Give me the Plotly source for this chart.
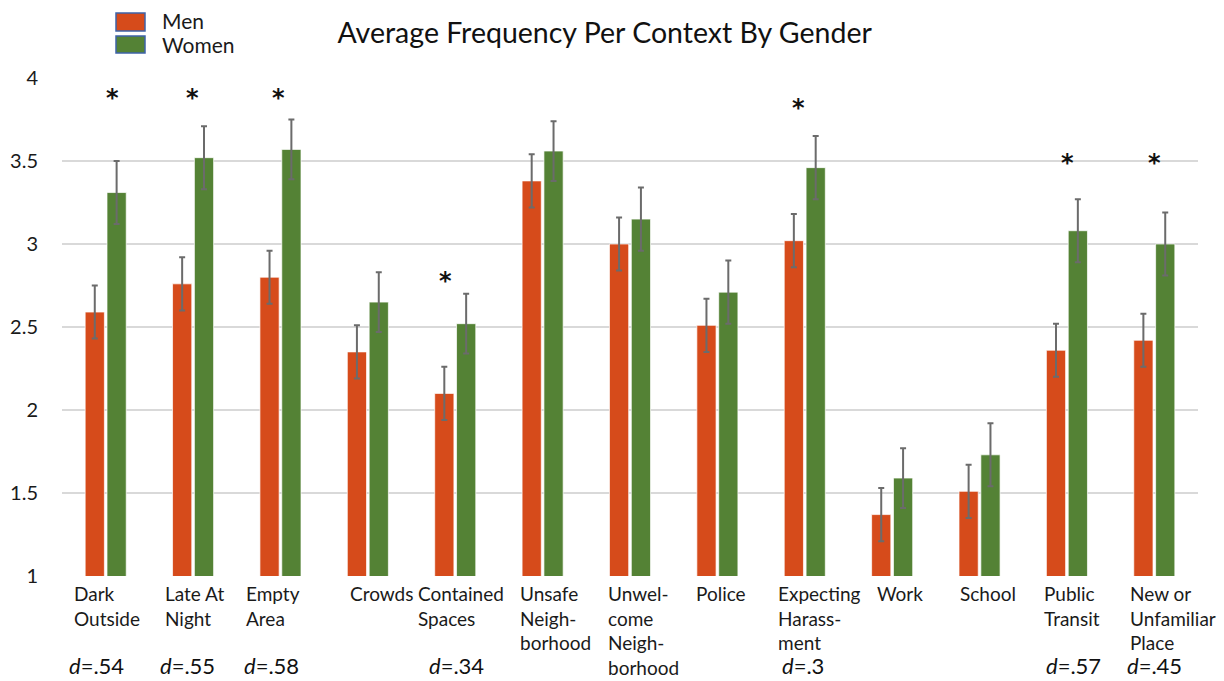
import plotly.graph_objects as go

# Contexts and per-gender mean frequency ratings
contexts = [
    "Dark Outside", "Late At Night", "Empty Area", "Crowds", "Contained Spaces",
    "Unsafe Neighborhood", "Unwelcome Neighborhood", "Police",
    "Expecting Harassment", "Work", "School", "Public Transit",
    "New or Unfamiliar Place",
]
context_labels = [
    "Dark<br>Outside", "Late At<br>Night", "Empty<br>Area", "Crowds",
    "Contained<br>Spaces", "Unsafe<br>Neigh-<br>borhood",
    "Unwel-<br>come<br>Neigh-<br>borhood", "Police",
    "Expecting<br>Harass-<br>ment", "Work", "School", "Public<br>Transit",
    "New or<br>Unfamiliar<br>Place",
]
men_mean = [2.59, 2.76, 2.80, 2.35, 2.10, 3.38, 3.00, 2.51, 3.02, 1.37, 1.51, 2.36, 2.42]
men_err = [0.16, 0.16, 0.16, 0.16, 0.16, 0.16, 0.16, 0.16, 0.16, 0.16, 0.16, 0.16, 0.16]
women_mean = [3.31, 3.52, 3.57, 2.65, 2.52, 3.56, 3.15, 2.71, 3.46, 1.59, 1.73, 3.08, 3.00]
women_err = [0.19, 0.19, 0.18, 0.18, 0.18, 0.18, 0.19, 0.19, 0.19, 0.18, 0.19, 0.19, 0.19]

# Significant differences: asterisk height and effect size label
sig_contexts = ["Dark Outside", "Late At Night", "Empty Area", "Contained Spaces",
                "Expecting Harassment", "Public Transit", "New or Unfamiliar Place"]
sig_star_y = [3.91, 3.91, 3.91, 2.81, 3.85, 3.52, 3.52]
effect_sizes = [".54", ".55", ".58", ".34", ".3", ".57", ".45"]

# Text placement tweaks (pixels, relative to each group's center)
label_left_shift = [-34, -30, -36, -20, -39, -25, -24, -23, -29, -17, -22, -25, -26]
star_shift = [7, -1, -2, -10, -6, 1, 0]
d_shift = [-9, -6, -9, 1, -2, 7, 0]

MEN_COLOR = "#D64B1B"
WOMEN_COLOR = "#548235"
FONT = "Lato"

W, H = 1224, 681
ML, MR, MT, MB = 62, 26, 78, 105
PW, PH = W - ML - MR, H - MT - MB


def px_x(px):
    return (px - ML) / PW


def px_y(py):
    return (H - MB - py) / PH


fig = go.Figure()
fig.add_trace(go.Bar(
    name="Men", x=contexts, y=men_mean, base=0,
    marker=dict(color=MEN_COLOR, line=dict(color="rgba(255,255,255,0.7)", width=1)),
    error_y=dict(type="data", array=men_err, color="#6b6b6b", thickness=2, width=3),
    showlegend=False,
))
fig.add_trace(go.Bar(
    name="Women", x=contexts, y=women_mean, base=0,
    marker=dict(color=WOMEN_COLOR, line=dict(color="rgba(255,255,255,0.7)", width=1)),
    error_y=dict(type="data", array=women_err, color="#6b6b6b", thickness=2, width=3),
    showlegend=False,
))

annotations = []
# Category labels beneath the axis, left-aligned text blocks
for c, lab, sh in zip(contexts, context_labels, label_left_shift):
    annotations.append(dict(
        x=c, xref="x", y=px_y(580), yref="paper", text=lab, showarrow=False,
        xanchor="left", yanchor="top", align="left", xshift=sh,
        font=dict(family=FONT, size=19, color="#1a1a1a"),
    ))
# Significance markers and effect sizes
for c, sy, d, ss, ds in zip(sig_contexts, sig_star_y, effect_sizes, star_shift, d_shift):
    annotations.append(dict(
        x=c, xref="x", y=sy, yref="y", text="<b>*</b>", showarrow=False,
        xanchor="center", yanchor="middle", yshift=-5, xshift=ss,
        font=dict(family="DejaVu Sans", size=24, color="#111111"),
    ))
    annotations.append(dict(
        x=c, xref="x", y=px_y(665), yref="paper", text="<i>d</i>=" + d,
        showarrow=False, xanchor="center", yanchor="middle", xshift=ds,
        font=dict(family=FONT, size=22, color="#111111"),
    ))
# Legend entries
for label, y0, y1 in [("Men", 11, 29), ("Women", 36, 53)]:
    annotations.append(dict(
        x=px_x(160), xref="paper", y=px_y((y0 + y1) / 2), yref="paper",
        text=label, showarrow=False, xanchor="left", yanchor="middle",
        font=dict(family=FONT, size=21, color="#1a1a1a"),
    ))

shapes = []
for color, y0, y1 in [(MEN_COLOR, 13, 31), (WOMEN_COLOR, 36, 53)]:
    shapes.append(dict(
        type="rect", xref="paper", yref="paper",
        x0=px_x(116), x1=px_x(145), y0=px_y(y1), y1=px_y(y0),
        fillcolor=color, line=dict(color="#3E63A8", width=1.5),
    ))

fig.update_layout(
    template="none",
    width=W, height=H,
    margin=dict(l=ML, r=MR, t=MT, b=MB, autoexpand=False),
    paper_bgcolor="white", plot_bgcolor="white",
    barmode="group", bargap=0.5, bargroupgap=0.12,
    title=dict(text="Average Frequency Per Context By Gender", x=0.494, xanchor="center",
               y=1 - 33 / H, yanchor="middle",
               font=dict(family=FONT, size=28.5, color="#111111")),
    font=dict(family=FONT, size=19, color="#1a1a1a"),
    xaxis=dict(showticklabels=False, showgrid=False, showline=False, ticks="",
               zeroline=False, automargin=False, range=[-0.5, len(contexts) - 0.5]),
    yaxis=dict(range=[1, 4], dtick=0.5, showgrid=True, gridcolor="#d9d9d9",
               gridwidth=1.5, zeroline=False, showline=False,
               ticks="outside", ticklen=19, tickcolor="rgba(0,0,0,0)",
               automargin=False,
               tickfont=dict(family=FONT, size=20, color="#1a1a1a")),
    annotations=annotations,
    shapes=shapes,
)

fig.write_html("out.html")
